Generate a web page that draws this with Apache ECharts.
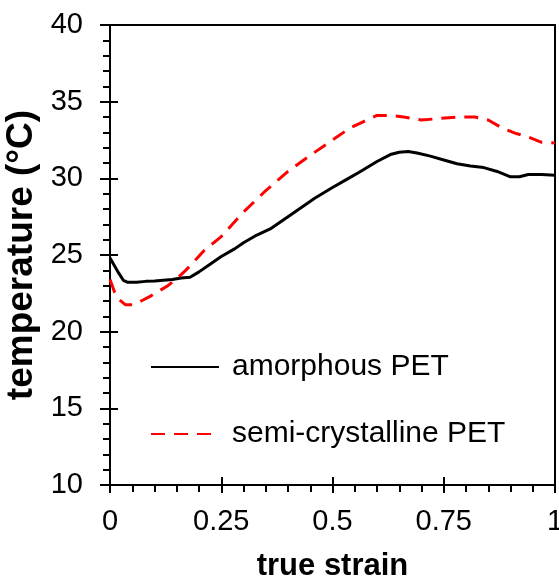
<!DOCTYPE html>
<html>
<head>
<meta charset="utf-8">
<script src="https://cdn.jsdelivr.net/npm/echarts@6/dist/echarts.min.js"></script>
<style>html,body{margin:0;padding:0;background:#fff}#c{width:559px;height:576px}</style>
</head>
<body>
<div id="c"></div>
<script>
// true strain (x) and temperature (°C) for amorphous PET
var amorphousStrain = [0,0.01,0.02,0.03,0.04,0.06,0.08,0.10,0.12,0.14,0.16,0.18,0.20,0.22,0.25,0.28,0.30,0.33,0.36,0.40,0.43,0.46,0.50,0.53,0.56,0.60,0.63,0.65,0.67,0.69,0.72,0.75,0.78,0.81,0.84,0.87,0.90,0.92,0.94,0.97,1.0];
var amorphousTemp   = [24.8,24.3,23.8,23.35,23.22,23.22,23.28,23.3,23.35,23.4,23.5,23.55,23.9,24.3,24.9,25.4,25.8,26.3,26.7,27.5,28.1,28.7,29.4,29.9,30.4,31.1,31.55,31.7,31.75,31.65,31.45,31.2,30.95,30.8,30.7,30.45,30.1,30.1,30.25,30.25,30.2];
// semi-crystalline PET
var semiStrain = [0,0.01,0.02,0.035,0.05,0.07,0.09,0.11,0.13,0.15,0.17,0.19,0.21,0.25,0.30,0.35,0.40,0.45,0.50,0.54,0.57,0.60,0.63,0.66,0.70,0.74,0.78,0.82,0.85,0.88,0.91,0.94,0.97,1.0];
var semiTemp   = [23.4,22.6,22.1,21.75,21.75,22.0,22.3,22.65,23.0,23.45,24.0,24.6,25.25,26.2,27.8,29.2,30.45,31.5,32.5,33.3,33.7,34.1,34.1,34.0,33.8,33.9,34.0,34.0,33.8,33.3,32.95,32.7,32.35,32.3];
var seriesNames = ['amorphous PET', 'semi-crystalline PET'];
var xTicks = [0, 0.25, 0.5, 0.75, 1];
var yTicks = [10, 15, 20, 25, 30, 35, 40];

function pairs(xs, ys) { return xs.map(function (x, i) { return [x, ys[i]]; }); }

var chart = echarts.init(document.getElementById('c'), null, {renderer: 'canvas'});
var font = 'Liberation Sans, Arial, Helvetica, sans-serif';
chart.setOption({
  animation: false,
  backgroundColor: '#fff',
  grid: {left: 110, top: 25, width: 445, height: 460, outerBoundsMode: 'none', containLabel: false,
         show: true, borderColor: '#000', borderWidth: 2, backgroundColor: 'transparent'},
  legend: {
    orient: 'vertical', left: 150, top: 352, padding: 0,
    itemWidth: 68, itemHeight: 14, itemGap: 37,
    itemStyle: {opacity: 0},
    textStyle: {fontFamily: font, fontSize: 30, color: '#000', padding: [0, 0, 0, 8]},
    data: seriesNames
  },
  xAxis: [{
    type: 'value', min: xTicks[0], max: xTicks[xTicks.length - 1], interval: 0.25,
    name: 'true strain', nameLocation: 'middle', nameGap: 66,
    nameTextStyle: {fontFamily: font, fontSize: 31, fontWeight: 'bold', color: '#000'},
    axisLine: {lineStyle: {color: '#000', width: 2}},
    axisTick: {show: true, inside: false, length: 8, lineStyle: {color: '#000', width: 2}},
    minorTick: {show: true, splitNumber: 5, length: 7, lineStyle: {color: '#000', width: 2}},
    axisLabel: {fontFamily: font, fontSize: 29, color: '#000', margin: 22},
    splitLine: {show: false}
  }, {
    type: 'value', min: xTicks[0], max: xTicks[xTicks.length - 1], interval: 0.25, position: 'bottom',
    axisLine: {show: false},
    axisTick: {show: true, inside: true, length: 8, lineStyle: {color: '#000', width: 2}},
    axisLabel: {show: false}, splitLine: {show: false}
  }],
  yAxis: [{
    type: 'value', min: yTicks[0], max: yTicks[yTicks.length - 1], interval: 5,
    name: 'temperature (°C)', nameLocation: 'middle', nameGap: 66,
    nameTextStyle: {fontFamily: font, fontSize: 37, fontWeight: 'bold', color: '#000'},
    axisLine: {show: true, lineStyle: {color: '#000', width: 2}},
    axisTick: {show: true, inside: false, length: 10, lineStyle: {color: '#000', width: 2}},
    minorTick: {show: true, splitNumber: 5, length: 7, lineStyle: {color: '#000', width: 2}},
    axisLabel: {fontFamily: font, fontSize: 29, color: '#000', margin: 27},
    splitLine: {show: false}
  }, {
    type: 'value', min: yTicks[0], max: yTicks[yTicks.length - 1], interval: 5, position: 'left',
    axisLine: {show: false},
    axisTick: {show: true, inside: true, length: 8, lineStyle: {color: '#000', width: 2}},
    axisLabel: {show: false}, splitLine: {show: false}
  }],
  series: [{
    name: seriesNames[0], type: 'line', xAxisIndex: 0, yAxisIndex: 0,
    data: pairs(amorphousStrain, amorphousTemp),
    showSymbol: false, symbol: 'none',
    lineStyle: {color: '#000', width: 3},
    itemStyle: {color: '#000'}
  }, {
    name: seriesNames[1], type: 'line', xAxisIndex: 0, yAxisIndex: 0,
    data: pairs(semiStrain, semiTemp),
    showSymbol: false, symbol: 'none',
    lineStyle: {color: '#ff0000', width: 3, type: [14, 9]},
    itemStyle: {color: '#ff0000'}
  }]
});
</script>
</body>
</html>
